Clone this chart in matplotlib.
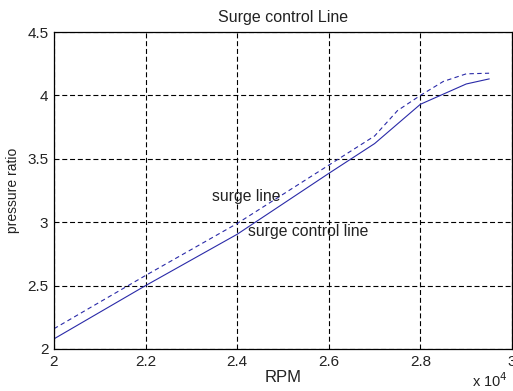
import matplotlib
matplotlib.use("Agg")
import matplotlib.pyplot as plt
from matplotlib.ticker import FuncFormatter

plt.rcParams['font.family'] = ['Liberation Sans', 'DejaVu Sans']

# Data
rpm_control = [20000, 22000, 24000, 26000, 27000, 28000, 29000, 29500]
pr_control = [2.08, 2.50, 2.905, 3.385, 3.62, 3.93, 4.09, 4.13]
rpm_surge = [20000, 22000, 24000, 26000, 27000, 27500, 28000, 28500, 29000, 29500]
pr_surge = [2.16, 2.58, 2.99, 3.45, 3.68, 3.88, 4.00, 4.11, 4.17, 4.175]
x_ticks = [20000, 22000, 24000, 26000, 28000, 30000]
y_ticks = [2, 2.5, 3, 3.5, 4, 4.5]

fig = plt.figure(figsize=(5.13, 3.91), dpi=100)
ax = fig.add_axes([54/513, 42/391, (512-54)/513, (349-32)/391])

line_color = '#2a2aa8'
ax.plot(rpm_control, pr_control, color=line_color, lw=0.8)
ax.plot(rpm_surge, pr_surge, color=line_color, lw=0.8, linestyle=(0, (4, 3)))

ax.set_xlim(20000, 30000)
ax.set_ylim(2, 4.5)
ax.set_xticks(x_ticks)
ax.set_yticks(y_ticks)
ax.xaxis.set_major_formatter(FuncFormatter(lambda v, p: f"{v/1e4:g}"))
ax.yaxis.set_major_formatter(FuncFormatter(lambda v, p: f"{v:g}"))
ax.tick_params(direction='in', length=0, labelsize=11, colors='#222222', pad=4)
ax.grid(True, color='black', lw=0.8, linestyle=(0, (4.5, 2.5)))
for s in ax.spines.values():
    s.set_linewidth(0.9)

ax.set_title('Surge control Line', fontsize=11.5, pad=7, color='#222222')
ax.set_xlabel('RPM', fontsize=12, labelpad=1, color='#222222')
ax.set_ylabel('pressure ratio', fontsize=10, labelpad=5, color='#222222')

ax.text(23450, 3.20, 'surge line', fontsize=11.3, color='#222222', va='center')
ax.text(24240, 2.925, 'surge control line', fontsize=11.3, color='#222222', va='center')
fig.text(472/513, 1 - 381/391, r'x 10$^4$', fontsize=10.5, color='#222222', va='center')

fig.savefig('out.png', dpi=100)
